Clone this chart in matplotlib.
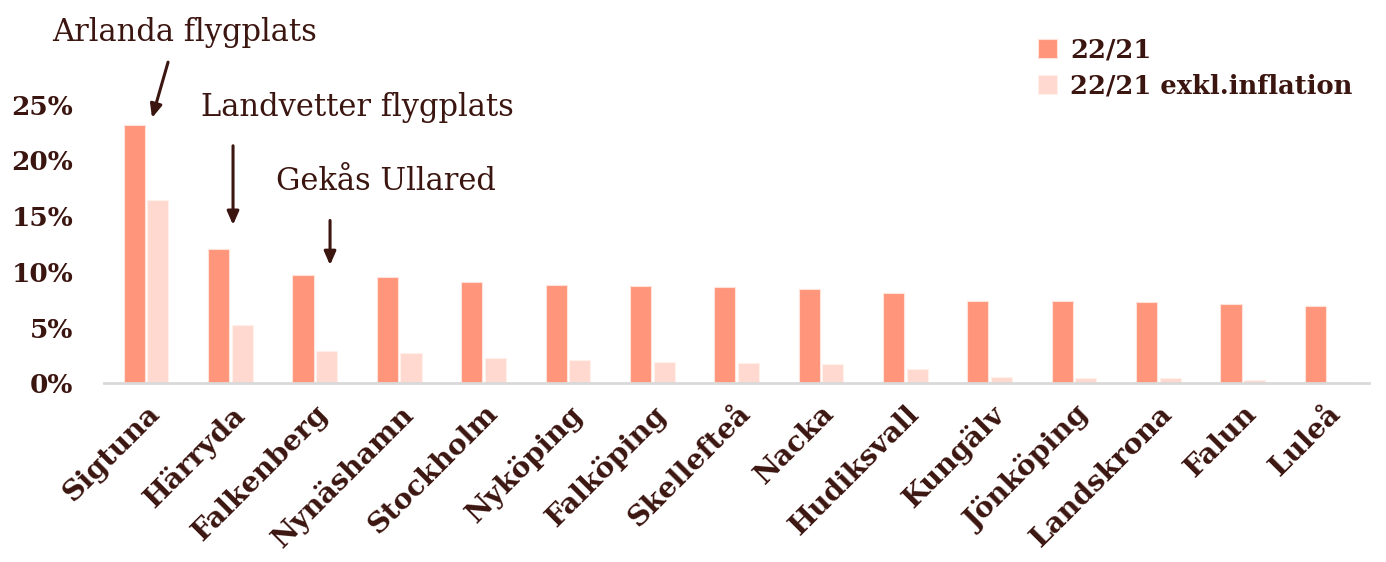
import numpy as np
import matplotlib.pyplot as plt
from matplotlib.ticker import FuncFormatter

# Kommuner och förändring 22/21
kommuner = ['Sigtuna', 'Härryda', 'Falkenberg', 'Nynäshamn', 'Stockholm', 'Nyköping',
            'Falköping', 'Skellefteå', 'Nacka', 'Hudiksvall', 'Kungälv', 'Jönköping',
            'Landskrona', 'Falun', 'Luleå']
forandring = [23.2, 12.0, 9.7, 9.5, 9.1, 8.8, 8.7, 8.6, 8.5, 8.1, 7.4, 7.35, 7.3, 7.1, 6.9]
exkl_inflation = [16.4, 5.2, 2.9, 2.7, 2.3, 2.05, 1.9, 1.8, 1.7, 1.3, 0.6, 0.5, 0.45, 0.25, 0.1]
y_ticks = [0, 5, 10, 15, 20, 25]

text_color = '#3b1510'
dark = '#ff957a'
light = '#ffd9cf'
plt.rcParams['font.family'] = ['DejaVu Serif']

fig = plt.figure(figsize=(13.86, 5.62), dpi=100)
ax = fig.add_axes([0.075, 0.318, 0.913, 0.496])

x = np.arange(len(kommuner))
w = 0.25
ax.bar(x - 0.14, forandring, w, color=dark, edgecolor='#ffe3da', linewidth=0.8, label='22/21')
ax.bar(x + 0.14, exkl_inflation, w, color=light, edgecolor='#fff0eb', linewidth=0.8,
       label='22/21 exkl.inflation')

ax.set_xlim(-0.5, len(kommuner) - 0.5)
ax.set_ylim(0, 25)
ax.set_yticks(y_ticks)
ax.yaxis.set_major_formatter(FuncFormatter(lambda v, p: f'{v:.0f}%'))
ax.set_xticks(x)
ax.set_xticklabels(kommuner, rotation=45, ha='right', rotation_mode='anchor',
                   fontsize=20.5, fontweight='bold', color=text_color)
for lbl in ax.get_yticklabels():
    lbl.set_fontsize(19)
    lbl.set_fontweight('bold')
    lbl.set_color(text_color)
ax.tick_params(axis='both', length=0)
ax.tick_params(axis='y', pad=22)
ax.tick_params(axis='x', pad=12)
for side in ['top', 'right', 'left']:
    ax.spines[side].set_visible(False)
ax.spines['bottom'].set_color('#d9d9d9')
ax.spines['bottom'].set_linewidth(2)

# Annoteringar
arrow = dict(arrowstyle='-|>,head_length=0.8,head_width=0.35', color=text_color, lw=2.2,
             shrinkA=0, shrinkB=0)
ax.annotate('', xy=(0.07, 23.8), xytext=(0.26, 28.8), arrowprops=arrow, annotation_clip=False)
ax.text(0.46, 31.5, 'Arlanda flygplats', ha='center', va='center', fontsize=22,
        color=text_color, clip_on=False)
ax.annotate('', xy=(1.03, 14.2), xytext=(1.03, 21.3), arrowprops=arrow, annotation_clip=False)
ax.text(2.5, 24.7, 'Landvetter flygplats', ha='center', va='center', fontsize=22,
        color=text_color)
ax.annotate('', xy=(2.18, 10.6), xytext=(2.18, 14.6), arrowprops=arrow, annotation_clip=False)
ax.text(2.84, 18.1, 'Gekås Ullared', ha='center', va='center', fontsize=22,
        color=text_color)

leg = ax.legend(loc='upper left', bbox_to_anchor=(0.72, 1.325), frameon=False,
                prop={'size': 18.5, 'weight': 'bold'}, handlelength=0.75, handleheight=0.75,
                handletextpad=0.5, labelspacing=0.45)
for t in leg.get_texts():
    t.set_color(text_color)

fig.savefig('out.png', dpi=100)
